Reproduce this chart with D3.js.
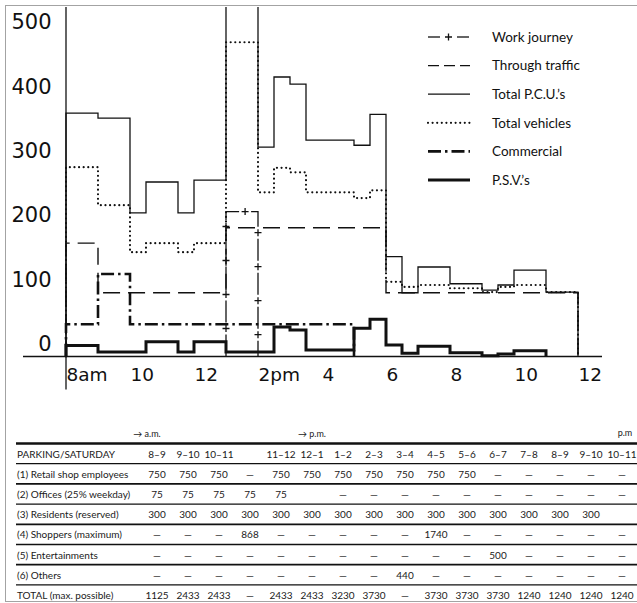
<!DOCTYPE html>
<html>
<head>
<meta charset="utf-8">
<script src="https://d3js.org/d3.v7.min.js"></script>
<style>
  body { margin: 0; background: #fff; }
  svg { display: block; }
</style>
</head>
<body>
<div id="chart"></div>
<script>

// step series: [hour the step starts, value]
// last pair closes the step back down to the axis
var workJourney    = [[13, 225], [14, 0]];
var throughTraffic = [[8, 176], [9, 99], [13, 200], [18, 99], [24, 0]];
var totalPCU       = [[8, 378], [9, 370], [10, 223], [10.5, 271], [11.5, 223], [12, 274], [13, 560],
                      [14, 325], [14.5, 434], [15, 423], [15.5, 336], [17, 328], [17.5, 376], [18, 155],
                      [18.5, 99], [19, 139], [20, 113], [21, 103], [21.5, 111], [22, 134], [23, 100], [24, 0]];
var totalVehicles  = [[8, 294], [9, 235], [10, 162], [10.5, 176], [11.5, 162], [12, 176], [13, 488],
                      [14, 255], [14.5, 293], [15, 286], [15.5, 255], [17, 246], [17.5, 258], [18, 116],
                      [18.5, 108], [19, 111], [20, 106], [21, 100], [21.5, 108], [22, 111], [23, 100], [24, 0]];
var commercial     = [[8, 50], [9, 128], [10, 50], [17, 0]];
var psv            = [[8, 17], [9, 7], [10.5, 23], [11.5, 7], [12, 23], [13, 7], [14.5, 46], [15, 41],
                      [15.5, 10], [17, 44], [17.5, 58], [18, 18], [18.5, 5], [19, 16], [20, 6], [21, 1],
                      [21.5, 4], [22, 9], [23, 0]];

var hourTicks  = [8, 10, 12, 14, 16, 18, 20, 22, 24];
var hourLabels = ["8am", "10", "12", "2pm", "4", "6", "8", "10", "12"];
var valueTicks = [0, 100, 200, 300, 400, 500];

var legendNames = ["Work journey", "Through traffic", "Total P.C.U.’s", "Total vehicles", "Commercial", "P.S.V.’s"];

// parking table (null = dash, "" = blank cell)
var periods = ["8–9", "9–10", "10–11", "", "11–12", "12–1", "1–2", "2–3", "3–4", "4–5", "5–6", "6–7", "7–8", "8–9", "9–10", "10–11"];
var rowLabels = ["(1) Retail shop employees", "(2) Offices (25% weekday)", "(3) Residents (reserved)",
                 "(4) Shoppers (maximum)", "(5) Entertainments", "(6) Others", "TOTAL (max. possible)"];
var retail         = [750, 750, 750, null, 750, 750, 750, 750, 750, 750, 750, null, null, null, null, null];
var offices        = [75, 75, 75, 75, 75, "", null, null, null, null, null, null, null, null, null, null];
var residents      = [300, 300, 300, 300, 300, 300, 300, 300, 300, 300, 300, 300, 300, 300, 300, ""];
var shoppers       = [null, null, null, 868, null, null, null, null, null, 1740, null, null, null, null, null, null];
var entertainments = [null, null, null, null, null, null, null, null, null, null, null, 500, null, null, null, null];
var others         = [null, null, null, null, null, null, null, null, 440, null, null, null, null, null, null, null];
var totals         = [1125, 2433, 2433, null, 2433, 2433, 3230, 3730, null, 3730, 3730, 3730, 1240, 1240, 1240, 1240];

var width = 637, height = 603;

var svg = d3.select("#chart")
  .append("svg")
    .attr("width", width)
    .attr("height", height);

svg.append("rect")
  .attr("width", width).attr("height", height)
  .attr("fill", "#fff");

// scan border
svg.append("rect")
  .attr("x", 5.5).attr("y", 5.5)
  .attr("width", 640).attr("height", 596)
  .attr("fill", "none")
  .attr("stroke", "#a3a3a3");

var x = d3.scaleLinear().domain([8, 24]).range([66, 578]);
var y = d3.scaleLinear().domain([0, 500]).range([356.5, 34.5]);

svg.append("clipPath").attr("id", "plotclip")
  .append("rect")
    .attr("x", 0).attr("y", 7)
    .attr("width", width).attr("height", y(0) + 10);

// axes
svg.append("line")
  .attr("x1", x(8)).attr("x2", x(8))
  .attr("y1", 7).attr("y2", y(0) + 33)
  .attr("stroke", "#111").attr("stroke-width", 1.3);
svg.append("line")
  .attr("x1", x(8) - 43).attr("x2", x(24) + 24)
  .attr("y1", y(0)).attr("y2", y(0))
  .attr("stroke", "#111").attr("stroke-width", 1.3);

var xAxis = svg.append("g")
  .attr("transform", "translate(0," + y(0) + ")")
  .call(d3.axisBottom(x).tickValues(hourTicks)
    .tickFormat(function(d, i) { return hourLabels[i]; })
    .tickSize(0).tickPadding(11.5));
xAxis.select(".domain").remove();
xAxis.selectAll("text")
  .attr("text-anchor", "start")
  .attr("fill", "#111")
  .style("font-family", "DejaVu Sans")
  .style("font-size", "18.5px");

var yAxis = svg.append("g")
  .attr("transform", "translate(51.5,0)")
  .call(d3.axisLeft(y).tickValues(valueTicks).tickSize(0).tickPadding(0));
yAxis.select(".domain").remove();
yAxis.selectAll("text")
  .attr("y", -12.5)
  .attr("fill", "#111")
  .style("font-family", "DejaVu Sans")
  .style("font-size", "21px");

// series
var step = d3.line()
  .x(function(d) { return x(d[0]); })
  .y(function(d) { return y(d[1]); })
  .curve(d3.curveStepAfter);

function withStart(s) { return [[s[0][0], 0]].concat(s); }

var styles = [
  { data: workJourney,    w: 1.3, dash: "22,12", cap: "butt" },
  { data: throughTraffic, w: 1.4, dash: "17,8",  cap: "butt" },
  { data: totalPCU,       w: 1.3, dash: null,    cap: "butt" },
  { data: totalVehicles,  w: 2.2, dash: "0,4.6", cap: "round" },
  { data: commercial,     w: 2.6, dash: "13,4,2.5,4", cap: "butt" },
  { data: psv,            w: 3,   dash: null,    cap: "butt" }
];

var plot = svg.append("g").attr("clip-path", "url(#plotclip)");
var drawOrder = [2, 3, 1, 4, 0, 5];
var paths = [];
drawOrder.forEach(function(i) {
  var s = styles[i];
  paths[i] = plot.append("path")
    .attr("d", step(withStart(s.data)))
    .attr("fill", "none")
    .attr("stroke", "#111")
    .attr("stroke-width", s.w)
    .attr("stroke-dasharray", s.dash)
    .attr("stroke-linecap", s.cap)
    .attr("stroke-linejoin", "miter");
});

// "+" marks in the gaps of the work journey line
var plus = "M-3.5,0H3.5M0,-3.5V3.5";
var wj = paths[0].node(), wjLen = wj.getTotalLength();
for (var l = 28; l < wjLen; l += 34) {
  var p = wj.getPointAtLength(l);
  plot.append("path")
    .attr("d", plus)
    .attr("transform", "translate(" + p.x + "," + p.y + ")")
    .attr("stroke", "#111").attr("stroke-width", 1.3);
}

// legend
var legend = svg.append("g").attr("transform", "translate(428,37)");
legendNames.forEach(function(name, i) {
  var s = styles[i];
  var g = legend.append("g").attr("transform", "translate(0," + (i * 28.6) + ")");
  if (i === 0) {
    g.append("line").attr("x1", 0).attr("x2", 12).attr("stroke", "#111").attr("stroke-width", 1.3);
    g.append("line").attr("x1", 29).attr("x2", 41).attr("stroke", "#111").attr("stroke-width", 1.3);
    g.append("path").attr("d", plus).attr("transform", "translate(20.5,0)")
      .attr("stroke", "#111").attr("stroke-width", 1.3);
  } else {
    g.append("line")
      .attr("x1", 0).attr("x2", i === 3 ? 44 : 42)
      .attr("stroke", "#111")
      .attr("stroke-width", s.w)
      .attr("stroke-dasharray", i === 1 ? "11,5" : s.dash)
      .attr("stroke-linecap", s.cap);
  }
  g.append("text")
    .attr("x", 64).attr("dy", "0.35em")
    .attr("fill", "#111")
    .style("font-family", "Lato")
    .style("font-size", "13.5px")
    .text(name);
});

// parking table
var col = d3.scalePoint().domain(d3.range(periods.length)).range([157, 622]);
var row = d3.scaleLinear().domain([0, 1]).range([454, 474.2]);
var tableRows = [retail, offices, residents, shoppers, entertainments, others, totals];

var table = svg.append("g")
  .style("font-family", "Lato")
  .style("font-size", "10px")
  .attr("fill", "#1a1a1a");

table.append("text").attr("x", col(0) - 10).attr("y", 434).attr("dy", "0.35em")
  .attr("text-anchor", "middle").style("font-size", "9px").text("→ a.m.");
table.append("text").attr("x", col(5)).attr("y", 434).attr("dy", "0.35em")
  .attr("text-anchor", "middle").style("font-size", "9px").text("→ p.m.");
table.append("text").attr("x", col(15) + 3).attr("y", 433).attr("dy", "0.35em")
  .attr("text-anchor", "middle").style("font-size", "9px").text("p.m");

d3.range(8).forEach(function(r) {
  table.append("line")
    .attr("x1", 16).attr("x2", width)
    .attr("y1", row(r) - 10.5).attr("y2", row(r) - 10.5)
    .attr("stroke", "#111")
    .attr("stroke-width", r === 0 ? 2.5 : (r % 2 ? 1.3 : 1.8));
});

table.append("text").attr("x", 17).attr("y", row(0)).attr("dy", "0.35em")
  .text("PARKING/SATURDAY");
periods.forEach(function(p, i) {
  table.append("text").attr("x", col(i)).attr("y", row(0)).attr("dy", "0.35em")
    .attr("text-anchor", "middle").text(p);
});

tableRows.forEach(function(vals, r) {
  table.append("text").attr("x", 17).attr("y", row(r + 1)).attr("dy", "0.35em")
    .text(rowLabels[r]);
  vals.forEach(function(v, i) {
    table.append("text").attr("x", col(i)).attr("y", row(r + 1)).attr("dy", "0.35em")
      .attr("text-anchor", "middle")
      .text(v === null ? "—" : v);
  });
});

</script>
</body>
</html>
